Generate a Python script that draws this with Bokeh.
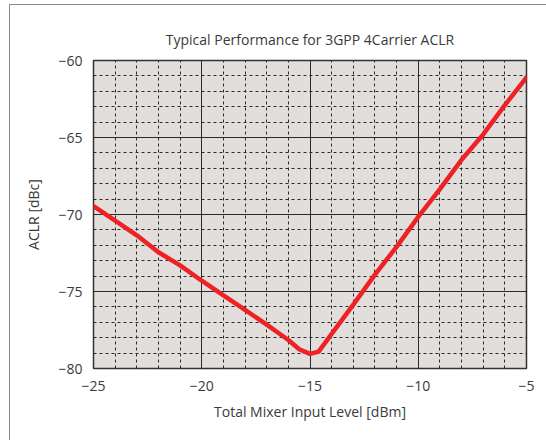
from bokeh.plotting import figure
from bokeh.models import FixedTicker, Range1d, InlineStyleSheet
from bokeh.embed import file_html
from bokeh.resources import INLINE

# data
input_level_dbm = [-25, -24, -23, -22, -21, -20, -19, -18, -17, -16, -15.5, -15, -14.6,
                   -14, -13, -12, -11, -10, -9, -8, -7, -6, -5]
aclr_dbc = [-69.45, -70.4, -71.35, -72.45, -73.3, -74.3, -75.25, -76.2, -77.15, -78.15,
            -78.75, -79.05, -78.9, -77.75, -75.85, -73.9, -72.1, -70.15, -68.35, -66.45,
            -64.8, -62.9, -61.1]

x_ticks = [-25, -20, -15, -10, -5]
x_tick_labels = ["\u221225", "\u221220", "\u221215", "\u221210", "\u22125"]
y_ticks = [-80, -75, -70, -65, -60]
y_tick_labels = ["\u221280", "\u221275", "\u221270", "\u221265", "\u221260"]
x_minor = [v for v in range(-25, -4)]
y_minor = [v for v in range(-80, -59)]

FONT = "Open Sans"
TEXT = "#3a3a3a"

# outer panel border (only its left and top edges fall inside the picture)
border_css = InlineStyleSheet(css="""
:host { position: relative; }
:host::after {
  content: ''; position: absolute; left: 9px; top: 4px; right: -20px; bottom: -20px;
  border-left: 1.5px solid #8a8a8a; border-top: 1.5px solid #8a8a8a;
  pointer-events: none; z-index: 10;
}
""")

p = figure(width=545, height=439, output_backend="svg", toolbar_location=None,
           x_range=Range1d(-25, -5), y_range=Range1d(-80, -60),
           min_border_left=93, min_border_right=19, min_border_top=60, min_border_bottom=71,
           background_fill_color="#e2dedc", border_fill_color="white",
           title="Typical Performance for 3GPP 4Carrier ACLR",
           stylesheets=[border_css])

p.title.align = "center"
p.title.text_font = FONT
p.title.text_font_size = "14px"
p.title.text_font_style = "normal"
p.title.text_color = TEXT
p.title.standoff = 23

p.outline_line_color = "#333333"
p.outline_line_width = 1.5

for ax, ticks, labels in ((p.xaxis[0], x_ticks, x_tick_labels), (p.yaxis[0], y_ticks, y_tick_labels)):
    ax.ticker = FixedTicker(ticks=ticks, minor_ticks=[])
    ax.major_label_overrides = {t: l for t, l in zip(ticks, labels)}
    ax.major_tick_out = 0
    ax.major_tick_in = 0
    ax.minor_tick_out = 0
    ax.minor_tick_in = 0
    ax.axis_line_color = None
    ax.major_label_text_font = FONT
    ax.major_label_text_font_size = "14px"
    ax.major_label_text_color = TEXT
    ax.axis_label_text_font = FONT
    ax.axis_label_text_font_size = "14px"
    ax.axis_label_text_font_style = "normal"
    ax.axis_label_text_color = TEXT

p.xaxis.axis_label = "Total Mixer Input Level [dBm]"
p.yaxis.axis_label = "ACLR [dBc]"
p.xaxis.major_label_standoff = 12
p.yaxis.major_label_standoff = 11
p.xaxis.axis_label_standoff = 8
p.yaxis.axis_label_standoff = 12

# grids: solid major, dashed minor
p.xgrid.ticker = FixedTicker(ticks=x_ticks, minor_ticks=x_minor)
p.ygrid.ticker = FixedTicker(ticks=y_ticks, minor_ticks=y_minor)
for g in (p.xgrid[0], p.ygrid[0]):
    g.grid_line_color = "#2a2a2a"
    g.grid_line_width = 1
    g.grid_line_alpha = 1
    g.minor_grid_line_color = "#2a2a2a"
    g.minor_grid_line_width = 1
    g.minor_grid_line_dash = "3 3"

p.line(input_level_dbm, aclr_dbc, line_color="#ee2226", line_width=4.5, line_join="round", line_cap="round")

open("out.html", "w").write(file_html(p, INLINE))
